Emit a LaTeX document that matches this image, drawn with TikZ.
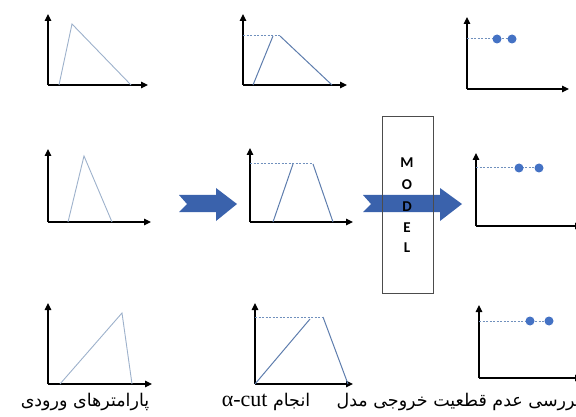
\documentclass[tikz,border=0pt]{standalone}
\usepackage{fontspec}
\setmainfont{Liberation Serif}
\newfontfamily\farsifont[Script=Arabic]{DejaVu Sans}
\newfontfamily\modelfont{Carlito}
\TeXXeTstate=1
\usetikzlibrary{arrows.meta}
\definecolor{memblight}{HTML}{9DB1CB}
\definecolor{membdark}{HTML}{5E7DAD}
\definecolor{cutblue}{HTML}{7090BD}
\definecolor{dotblue}{HTML}{4472C4}
\definecolor{flowblue}{HTML}{3A62AC}

\begin{document}
\begin{tikzpicture}[x=1pt,y=-1pt,
    axis/.style={line width=1.2pt,-{Triangle[length=7pt,width=6.5pt]}},
    membin/.style={color=memblight,line width=0.9pt},
    membcut/.style={color=membdark,line width=1pt},
    cutlevel/.style={color=cutblue,line width=1pt,dash pattern=on 2pt off 1.5pt},
    outdot/.style={fill=dotblue},
    flow/.style={fill=flowblue},
    letter/.style={font=\modelfont\bfseries\fontsize{15}{16}\selectfont},
    caption/.style={font=\farsifont\fontsize{17.5}{20}\selectfont}]
    \useasboundingbox (0,0) rectangle (576,417);

    \draw[axis] (48,85) -- (48,14);
    \draw[axis] (48,85) -- (148,85);
    \draw[membin] (59,85) -- (72,24) -- (131,85);

    \draw[axis] (243,85) -- (243,14);
    \draw[axis] (243,85) -- (347,85);
    \draw[cutlevel] (243,36) -- (280,36);
    \draw[membcut] (253,85) -- (273,36);
    \draw[membcut] (280,36) -- (332,85);

    \draw[axis] (467,89) -- (467,17);
    \draw[axis] (467,89) -- (569,89);
    \draw[cutlevel] (467,39) -- (512,39);
    \fill[outdot] (497,39) circle (4.5pt);
    \fill[outdot] (512,39) circle (4.5pt);

    \draw[axis] (48,222) -- (48,149);
    \draw[axis] (48,222) -- (151,222);
    \draw[membin] (68,222) -- (84,156) -- (112,222);

    \draw[axis] (250,222) -- (250,148);
    \draw[axis] (250,222) -- (353,222);
    \draw[cutlevel] (250,164) -- (313,164);
    \draw[membcut] (273,222) -- (293,164);
    \draw[membcut] (313,164) -- (333,222);

    \draw[axis] (476,226) -- (476,153);
    \draw[axis] (476,226) -- (582,226);
    \draw[cutlevel] (476,168) -- (539,168);
    \fill[outdot] (519,168) circle (4.5pt);
    \fill[outdot] (539,168) circle (4.5pt);

    \draw[axis] (48,384) -- (48,303);
    \draw[axis] (48,384) -- (152,384);
    \draw[membin] (60,384) -- (122,313) -- (132,384);

    \draw[axis] (255,384) -- (255,303);
    \draw[axis] (255,384) -- (353,384);
    \draw[cutlevel] (255,317) -- (323,317);
    \draw[membcut] (255,384) -- (310,319);
    \draw[membcut] (323,317) -- (348,384);

    \draw[axis] (479,378) -- (479,305);
    \draw[axis] (479,378) -- (582,378);
    \draw[cutlevel] (479,321) -- (549,321);
    \fill[outdot] (530,321) circle (4.5pt);
    \fill[outdot] (549,321) circle (4.5pt);

    \fill[flow] (179,195) -- (216,195) -- (216,188) -- (237,204) -- (216,221)
        -- (216,212) -- (179,212) -- (187,204) -- cycle;
    \fill[flow] (363,195) -- (440,195) -- (440,188) -- (462,204) -- (440,221)
        -- (440,212) -- (363,212) -- (371,204) -- cycle;
    \draw[color=black!70,line width=0.8pt] (382,116) rectangle (433,293);

    \node[letter] (modelm) at (407,163) {M};
    \node[letter] (modelo) at (407,185) {O};
    \node[letter] (modeld) at (407,207) {D};
    \node[letter] (modele) at (407,228) {E};
    \node[letter] (modell) at (407,248) {L};

    \node[caption] (inputs) at (85,402) {\beginR پارامترهای ورودی\endR};
    \node[caption] (alphacut) at (266,402) {\beginR انجام \beginL{\rmfamily\fontsize{22}{24}\selectfont α-cut}\endL\endR};
    \node[caption,anchor=west] (outunc) at (333,402) {\beginR بررسی عدم قطعیت خروجی مدل\endR};
\end{tikzpicture}
\end{document}
